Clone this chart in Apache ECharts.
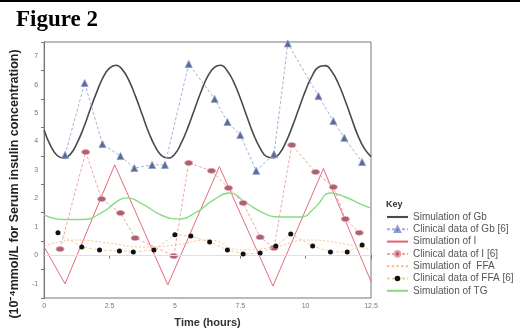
<!DOCTYPE html>
<html>
<head>
<meta charset="utf-8">
<script src="https://cdn.jsdelivr.net/npm/echarts@6/dist/echarts.min.js"></script>
<style>
  html, body { margin: 0; padding: 0; background: #fff; }
  #chart { width: 520px; height: 334px; }
</style>
</head>
<body>
<div id="chart"></div>
<script>
// all series as [time (hours), value]
const gbSim = [
  [0, 4.40], [0.25, 3.85], [0.5, 3.51], [0.75, 3.42], [1, 3.55], [1.25, 3.93], [1.5, 4.46], [1.75, 5.10],
  [2, 5.71], [2.25, 6.25], [2.5, 6.58], [2.75, 6.68], [3, 6.52], [3.25, 6.13], [3.5, 5.58], [3.75, 4.95],
  [4, 4.32], [4.25, 3.82], [4.5, 3.50], [4.75, 3.42], [5, 3.56], [5.25, 3.96], [5.5, 4.50], [5.75, 5.13],
  [6, 5.75], [6.25, 6.28], [6.5, 6.60], [6.75, 6.68], [7, 6.49], [7.25, 6.09], [7.5, 5.53], [7.75, 4.89],
  [8, 4.27], [8.25, 3.79], [8.5, 3.48], [8.75, 3.43], [9, 3.58], [9.25, 3.99], [9.5, 4.55], [9.75, 5.18],
  [10, 5.80], [10.25, 6.31], [10.5, 6.62], [10.75, 6.67], [11, 6.46], [11.25, 6.04], [11.5, 5.47], [11.75, 4.83],
  [12, 4.21], [12.25, 3.75], [12.5, 3.47]
];
const gbClinical = [
  [0.8, 3.53], [1.55, 6.06], [2.23, 3.91], [2.92, 3.49], [3.45, 3.07], [4.13, 3.18], [4.62, 3.18],
  [5.53, 6.73], [6.52, 5.50], [7.01, 4.69], [7.5, 4.23], [8.11, 2.97], [8.79, 3.56], [9.32, 7.45],
  [10.49, 5.60], [11.06, 4.72], [11.48, 4.13], [12.16, 3.28]
];
const iSim = [
  [0, 0.3], [0.8, -1.0], [2.7, 3.18], [4.73, -1.04], [6.7, 3.12], [8.75, -1.08], [10.68, 3.05], [12.5, -0.92]
];
const iClinical = [
  [0.61, 0.22], [1.59, 3.63], [2.2, 1.98], [2.92, 1.49], [3.48, 0.61], [4.96, -0.02], [5.53, 3.25],
  [6.4, 2.97], [7.05, 2.37], [7.61, 1.84], [8.26, 0.64], [8.79, 0.26], [9.47, 3.88], [10.38, 2.93],
  [11.06, 2.40], [11.52, 1.28], [12.05, 0.79]
];
const ffaSim = [
  [0, 0.33], [1.2, 0.54], [2.5, 0.43], [3.75, 0.29], [5.0, 0.36], [6.3, 0.54], [7.5, 0.19],
  [8.8, 0.29], [10.1, 0.54], [11.3, 0.43], [12.5, 0.19]
];
const ffaClinical = [
  [0.53, 0.79], [1.44, 0.29], [2.12, 0.19], [2.88, 0.15], [3.41, 0.12], [4.2, 0.19], [5.0, 0.72],
  [5.61, 0.68], [6.33, 0.47], [7.01, 0.19], [7.61, 0.05], [8.26, 0.08], [8.86, 0.33], [9.43, 0.75],
  [10.27, 0.33], [10.95, 0.12], [11.59, 0.12], [12.16, 0.36]
];
const tgSim = [
  [0, 1.42], [0.72, 1.26], [1.48, 1.26], [2.23, 1.52], [2.88, 1.95], [3.18, 2.02], [3.75, 1.81],
  [4.51, 1.40], [5.15, 1.28], [5.83, 1.52], [6.48, 1.95], [7.08, 2.19], [7.73, 1.84], [8.48, 1.45],
  [9.05, 1.35], [9.81, 1.35], [10.38, 1.70], [10.95, 2.19], [11.52, 2.05], [12.08, 1.81], [12.5, 1.66]
];
const seriesNames = [
  'Simulation of Gb', 'Clinical data of Gb [6]', 'Simulation of I', 'Clinical data of I [6]',
  'Simulation of  FFA', 'Clinical data of FFA [6]', 'Simulation of TG'
];

// plain line icons for the simulation rows of the key
const solidIcon = 'path://M0,0H20V2H0Z';
const dottedIcon = 'path://M0,0H2V2H0ZM4,0H6V2H4ZM8,0H10V2H8ZM12,0H14V2H12ZM16,0H18V2H16Z';

const chart = echarts.init(document.getElementById('chart'));

const axisColor = '#555';
const labelStyle = { fontSize: 7, color: '#777', fontFamily: 'Liberation Sans' };

chart.setOption({
  animation: false,
  title: [
    {
      text: 'Figure 2', left: 11, top: 4,
      textStyle: { fontFamily: 'Liberation Serif', fontWeight: 'bold', fontSize: 23, color: '#000' }
    },
    {
      text: 'Key', left: 381, top: 195,
      textStyle: { fontFamily: 'Liberation Sans', fontWeight: 'bold', fontSize: 9, color: '#333' }
    }
  ],
  graphic: [
    { type: 'rect', shape: { x: 0, y: 0, width: 520, height: 2 }, style: { fill: '#000' } }
  ],
  legend: {
    orient: 'vertical', left: 381, top: 206.5,
    itemWidth: 21, itemHeight: 7, itemGap: 1.3,
    textStyle: { fontSize: 10, lineHeight: 11, color: '#555', fontFamily: 'Liberation Sans' },
    data: [
      { name: seriesNames[0], icon: solidIcon },
      { name: seriesNames[1] },
      { name: seriesNames[2], icon: solidIcon },
      { name: seriesNames[3] },
      { name: seriesNames[4], icon: dottedIcon },
      { name: seriesNames[5] },
      { name: seriesNames[6], icon: solidIcon }
    ]
  },
  grid: {
    left: 41, right: 149, top: 42, bottom: 36,
    show: true, borderColor: '#777', borderWidth: 1
  },
  xAxis: [
    {
      type: 'value', min: 0, max: 12.5, interval: 2.5,
      name: 'Time (hours)', nameLocation: 'middle', nameGap: 19,
      nameTextStyle: { fontSize: 11, fontWeight: 'bold', color: '#333', fontFamily: 'Liberation Sans' },
      axisLine: { lineStyle: { color: axisColor } },
      axisTick: { length: 3, lineStyle: { color: axisColor } },
      axisLabel: Object.assign({ margin: 5 }, labelStyle),
      splitLine: { show: false }
    },
    {
      type: 'value', min: 0, max: 12.5, interval: 2.5, position: 'top',
      axisLine: { show: true, lineStyle: { color: '#777' } },
      axisTick: { inside: true, length: 3, lineStyle: { color: '#777' } },
      axisLabel: { show: false }, splitLine: { show: false }
    }
  ],
  yAxis: [
    {
      type: 'value', min: -1.5, max: 7.5, interval: 1,
      name: '(10⁻⁴mmol/L for Serum insulin concentration)', nameLocation: 'middle', nameGap: 21,
      nameTextStyle: {
        fontSize: 12.5, fontWeight: 'bold', color: '#222', fontFamily: 'Liberation Sans',
        padding: [0, 28, 0, 0]
      },
      axisLine: { show: true, lineStyle: { color: axisColor } },
      axisTick: { length: 3, lineStyle: { color: axisColor } },
      axisLabel: Object.assign({
        margin: 6,
        customValues: [-1, 0, 1, 2, 3, 4, 5, 6, 7]
      }, labelStyle),
      splitLine: { show: false }
    },
    {
      type: 'value', min: -1.5, max: 7.5, interval: 1, position: 'right',
      axisLine: { show: true, lineStyle: { color: '#777' } },
      axisTick: { inside: true, length: 3, lineStyle: { color: '#777' } },
      axisLabel: { show: false }, splitLine: { show: false }
    }
  ],
  series: [
    {
      name: seriesNames[0], type: 'line', data: gbSim, smooth: true, symbol: 'none',
      lineStyle: { color: '#4a4a4a', width: 1.6 }, itemStyle: { color: '#4a4a4a' }, z: 2
    },
    {
      name: seriesNames[1], type: 'line', data: gbClinical, symbol: 'triangle', symbolSize: 7,
      lineStyle: { color: '#9fb3da', width: 1, type: [3, 2] },
      itemStyle: { color: '#5c6a96', borderColor: '#8f9fcc', borderWidth: 0.8 }, z: 4
    },
    {
      name: seriesNames[2], type: 'line', data: iSim, symbol: 'none',
      lineStyle: { color: '#e36b78', width: 1 }, itemStyle: { color: '#e36b78' }, z: 2,
      markLine: {
        silent: true, symbol: 'none', label: { show: false },
        lineStyle: { color: '#f6d6d2', width: 1, type: 'solid' },
        data: [{ yAxis: 0 }]
      }
    },
    {
      name: seriesNames[3], type: 'line', data: iClinical, symbol: 'circle', symbolSize: [8, 5],
      lineStyle: { color: '#f0a4a8', width: 1, type: [3, 2] },
      itemStyle: { color: '#a86272', borderColor: '#e7a0aa', borderWidth: 0.8 }, z: 4
    },
    {
      name: seriesNames[4], type: 'line', data: ffaSim, smooth: true, symbol: 'none',
      lineStyle: { color: '#f6c48c', width: 1, type: [2, 2] }, itemStyle: { color: '#f6c48c' }, z: 2
    },
    {
      name: seriesNames[5], type: 'line', data: ffaClinical, symbol: 'circle', symbolSize: 5,
      lineStyle: { color: '#f1cf9c', width: 1, type: [3, 2] },
      itemStyle: { color: '#111' }, z: 5
    },
    {
      name: seriesNames[6], type: 'line', data: tgSim, smooth: true, symbol: 'none',
      lineStyle: { color: '#86dd86', width: 1.4 }, itemStyle: { color: '#86dd86' }, z: 2
    }
  ]
});

window.addEventListener('resize', () => chart.resize());
</script>
</body>
</html>
